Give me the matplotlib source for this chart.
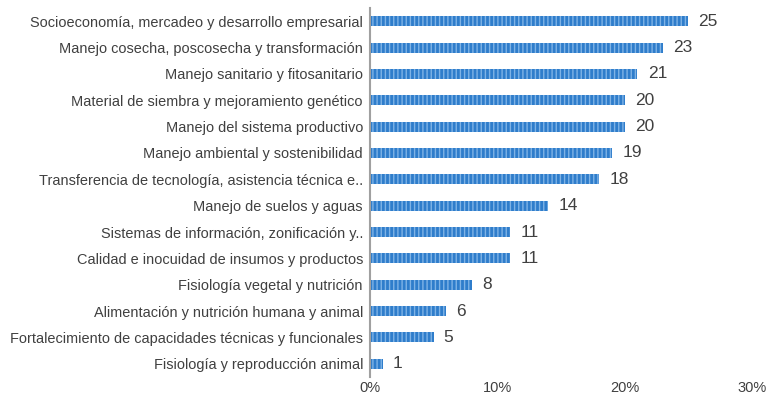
import matplotlib
matplotlib.use("Agg")
import matplotlib.pyplot as plt

plt.rcParams["font.family"] = ["Liberation Sans", "DejaVu Sans"]

# Data (top to bottom as shown)
categories = [
    "Socioeconomía, mercadeo y desarrollo empresarial",
    "Manejo cosecha, poscosecha y transformación",
    "Manejo sanitario y fitosanitario",
    "Material de siembra y mejoramiento genético",
    "Manejo del sistema productivo",
    "Manejo ambiental y sostenibilidad",
    "Transferencia de tecnología, asistencia técnica e..",
    "Manejo de suelos y aguas",
    "Sistemas de información, zonificación y..",
    "Calidad e inocuidad de insumos y productos",
    "Fisiología vegetal y nutrición",
    "Alimentación y nutrición humana y animal",
    "Fortalecimiento de capacidades técnicas y funcionales",
    "Fisiología y reproducción animal",
]
values = [25, 23, 21, 20, 20, 19, 18, 14, 11, 11, 8, 6, 5, 1]
xticks = [0, 10, 20, 30]
xtick_labels = ["0%", "10%", "20%", "30%"]

fig = plt.figure(figsize=(7.77, 4.04), dpi=100)
ax = fig.add_axes([0.476, 0.067, 0.492, 0.913])

ypos = list(range(len(categories)))
ax.barh(ypos, values, height=0.38, color="#2f7dcb", edgecolor="#7fb3e6",
        hatch="||||", linewidth=0)

for y, v in zip(ypos, values):
    ax.text(v + 0.8, y, str(v), va="center", ha="left", fontsize=12.5,
            color="#404040")

ax.set_yticks(ypos)
ax.set_yticklabels(categories, fontsize=10.45, color="#404040")
ax.set_ylim(len(categories) - 0.5, -0.5)
ax.set_xlim(0, 30)
ax.set_xticks(xticks)
ax.set_xticklabels(xtick_labels, fontsize=10.5, color="#404040")

for s in ["top", "right", "bottom"]:
    ax.spines[s].set_visible(False)
ax.spines["left"].set_color("#a0a0a0")
ax.spines["left"].set_linewidth(1.5)
ax.tick_params(axis="both", length=0)
ax.tick_params(axis="y", pad=5)
ax.tick_params(axis="x", pad=3)

fig.savefig("out.png", dpi=100)
